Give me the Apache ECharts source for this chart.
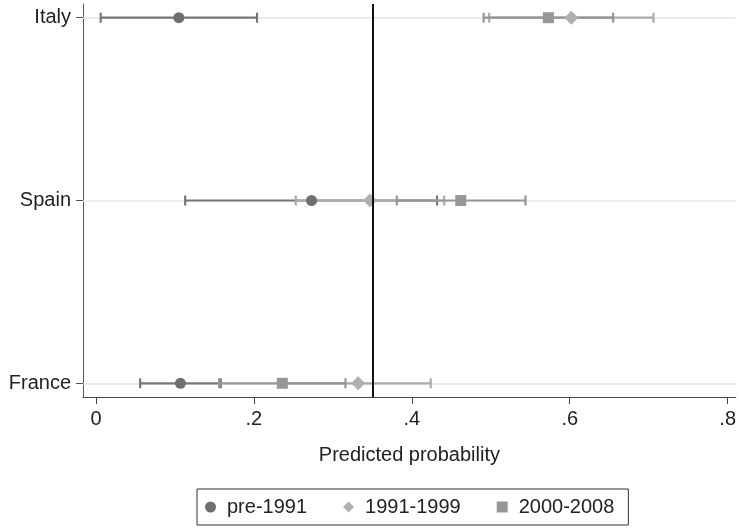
<!DOCTYPE html>
<html>
<head>
<meta charset="utf-8">
<script src="https://cdn.jsdelivr.net/npm/echarts@6/dist/echarts.min.js"></script>
<style>html,body{margin:0;padding:0;background:#fff}#c{width:739px;height:529px}</style>
</head>
<body>
<div id="c"></div>
<script>
// Categories from bottom (0) to top (2)
const categories = ['France', 'Spain', 'Italy'];
const seriesNames = ['pre-1991', '1991-1999', '2000-2008'];

// Point estimates per category (France, Spain, Italy)
const pre1991 = [0.107, 0.273, 0.105];
const pre1991Lo = [0.056, 0.113, 0.006];
const pre1991Hi = [0.158, 0.432, 0.204];

const p1991 = [0.332, 0.347, 0.602];
const p1991Lo = [0.239, 0.253, 0.498];
const p1991Hi = [0.424, 0.441, 0.706];

const p2000 = [0.236, 0.462, 0.573];
const p2000Lo = [0.156, 0.381, 0.491];
const p2000Hi = [0.316, 0.544, 0.655];

const refLine = [0.355];
const xTickValues = [0, 0.2, 0.4, 0.6, 0.8];
const xTickLabels = ['0', '.2', '.4', '.6', '.8'];
const yTickValues = [0, 1, 2];

const FONT = 'Liberation Sans, Arial, sans-serif';
const markerColors = ['#6e6e6e', '#b0b0b0', '#979797'];
const ciColors = ['#777777', '#ababab', '#969696'];
const symbols = ['circle', 'diamond', 'rect'];
const symbolSizes = [11, 14, 11];

const groups = [
  {est: pre1991, lo: pre1991Lo, hi: pre1991Hi},
  {est: p1991, lo: p1991Lo, hi: p1991Hi},
  {est: p2000, lo: p2000Lo, hi: p2000Hi}
];

const series = [];
// grid lines at categories
series.push({
  type: 'scatter', data: [], silent: true, z: 1,
  markLine: {
    z: 1, silent: true, symbol: 'none', animation: false,
    label: {show: false},
    lineStyle: {color: '#e6e6e6', width: 1.5, type: 'solid'},
    data: yTickValues.map(v => ({yAxis: v}))
  }
});
// CI bars
groups.forEach((g, i) => {
  series.push({
    type: 'custom', z: 10 + i, silent: true,
    data: categories.map((c, k) => [g.lo[k], g.hi[k], k]),
    renderItem: function (params, api) {
      const y = api.value(2);
      const a = api.coord([api.value(0), y]);
      const b = api.coord([api.value(1), y]);
      const h = 5;
      const style = {stroke: ciColors[i], lineWidth: 2.2, fill: null};
      return {
        type: 'group',
        children: [
          {type: 'line', shape: {x1: a[0], y1: a[1], x2: b[0], y2: b[1]}, style: style},
          {type: 'line', shape: {x1: a[0], y1: a[1] - h, x2: a[0], y2: a[1] + h}, style: style},
          {type: 'line', shape: {x1: b[0], y1: b[1] - h, x2: b[0], y2: b[1] + h}, style: style}
        ]
      };
    }
  });
});
// markers
groups.forEach((g, i) => {
  series.push({
    name: seriesNames[i],
    type: 'scatter', z: 20 + i,
    symbol: symbols[i], symbolSize: symbolSizes[i],
    itemStyle: {color: markerColors[i], opacity: 1},
    data: categories.map((c, k) => [g.est[k], k])
  });
});
// reference line
series.push({
  type: 'scatter', data: [], silent: true, z: 40,
  markLine: {
    z: 40, silent: true, symbol: 'none', animation: false,
    label: {show: false},
    lineStyle: {color: '#111', width: 2, type: 'solid'},
    data: refLine.map(v => ({xAxis: v}))
  }
});

const chart = echarts.init(document.getElementById('c'), null, {renderer: 'canvas'});
chart.setOption({
  animation: false,
  backgroundColor: '#fff',
  textStyle: {fontFamily: FONT},
  grid: {left: 83, right: 0, top: 4, bottom: 132, containLabel: false},
  xAxis: {
    type: 'value', min: -0.0164, max: 0.8103,
    name: 'Predicted probability', nameLocation: 'middle', nameGap: 48,
    nameTextStyle: {fontSize: 20, color: '#222', fontFamily: FONT},
    axisLine: {show: true, onZero: false, lineStyle: {color: '#444', width: 1}},
    axisTick: {show: true, length: 7, customValues: xTickValues, lineStyle: {color: '#444', width: 1}},
    axisLabel: {
      customValues: xTickValues, fontSize: 20, color: '#222', margin: 12, fontFamily: FONT,
      formatter: v => xTickLabels[xTickValues.indexOf(v)] ?? ''
    },
    splitLine: {show: false}
  },
  yAxis: {
    type: 'value', min: -0.075, max: 2.075,
    axisLine: {show: true, onZero: false, lineStyle: {color: '#555', width: 1}},
    axisTick: {show: true, length: 7, customValues: yTickValues, lineStyle: {color: '#555', width: 1}},
    axisLabel: {
      customValues: yTickValues, fontSize: 20, color: '#222', margin: 12, fontFamily: FONT,
      formatter: v => categories[Math.round(v)] ?? ''
    },
    splitLine: {show: false}
  },
  legend: {
    left: 197, top: 489, orient: 'horizontal',
    data: seriesNames,
    itemWidth: 11, itemHeight: 11, itemGap: 36,
    padding: [8, 14, 8, 8],
    borderColor: '#333', borderWidth: 1, borderRadius: 0,
    textStyle: {fontSize: 20, color: '#222', fontFamily: FONT, padding: [0, 0, 0, 6]}
  },
  series: series
});
</script>
</body>
</html>
